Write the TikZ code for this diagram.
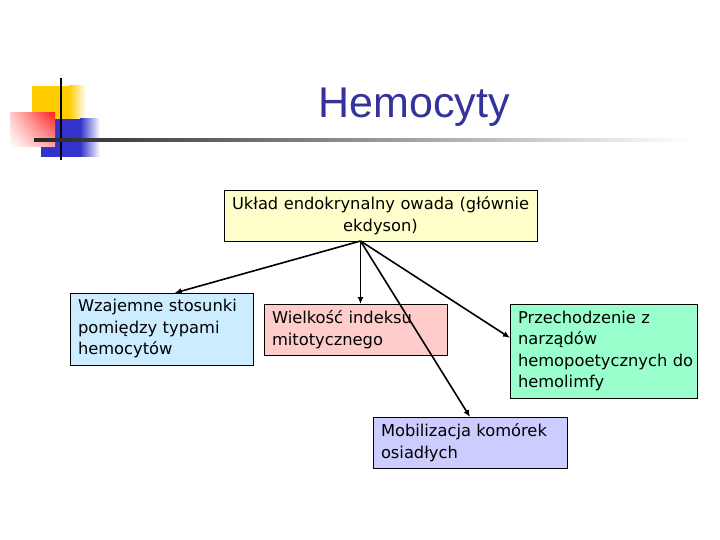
\documentclass[tikz,border=0pt]{standalone}
\usepackage{fontspec}
\setmainfont{DejaVu Sans}
\newfontfamily\titlefont{Liberation Sans}
\usepackage{tikz}
\usetikzlibrary{arrows.meta,shadings}

\definecolor{titleblue}{HTML}{333399}
\definecolor{logoyellow}{HTML}{FFCC00}
\definecolor{logored}{HTML}{FF2020}
\definecolor{logoblue}{HTML}{3333CC}
\definecolor{ukladfill}{HTML}{FFFFCC}
\definecolor{wzajfill}{HTML}{CCECFF}
\definecolor{wielfill}{HTML}{FFCCCC}
\definecolor{przefill}{HTML}{99FFCC}
\definecolor{mobifill}{HTML}{CCCCFF}

\tikzset{
  box/.style={draw=black,line width=0.8pt,anchor=north west,inner xsep=8pt,inner ysep=2pt,
              outer sep=0pt,align=left,font=\fontsize{16.3}{21.5}\selectfont},
  link/.style={line width=1.6pt,-{Latex[length=7pt,width=6pt]}}
}

\begin{document}
\begin{tikzpicture}[x=1pt,y=-1pt]
                              \useasboundingbox (0,0) rectangle (720,540);

                              % Logo
                              \fill[logoyellow] (32,86) rectangle (69,119);
                              \shade[left color=logoyellow,right color=white] (69,86) rectangle (86,119);
                              \fill[logoblue] (41,119) rectangle (80,157);
                              \shade[left color=logoblue,right color=white] (80,119) rectangle (100,157);
                              \shade[upper left=red!20,upper right=logored,lower left=white,lower right=red!35]
                                    (10,113) rectangle (55,147);
                              \fill[black] (60.3,78) rectangle (62.3,160);
                              \shade[left color=black!85,right color=white] (34,139) rectangle (690,142);

                              % Title
                              \node[anchor=base,text=titleblue,font=\titlefont\fontsize{43}{43}\selectfont]
                                    (title) at (414,118) {Hemocyty};

                              % Boxes
                              \node[box,fill=ukladfill,text width=297pt,minimum height=51pt,align=center]
                                    (uklad) at (224,190) {\mbox{Układ endokrynalny owada (głównie}\\ ekdyson)};
                              \node[box,fill=wzajfill,text width=167pt,minimum height=72pt]
                                    (wzajemne) at (70,293) {Wzajemne stosunki\\ pomiędzy typami\\ hemocytów};
                              \node[box,fill=wielfill,text width=167pt,minimum height=51pt]
                                    (wielkosc) at (264,304) {Wielkość indeksu\\ mitotycznego};
                              \node[box,fill=przefill,text width=171pt,minimum height=94pt]
                                    (przechodzenie) at (510,304) {Przechodzenie z\\ narządów\\ \mbox{hemopoetycznych do}\\ hemolimfy};
                              \node[box,fill=mobifill,text width=178pt,minimum height=51pt]
                                    (mobilizacja) at (373,417) {Mobilizacja komórek\\ osiadłych};

                              % Arrows
                              \coordinate (src) at ([xshift=-20pt]uklad.south);
                              \draw[link] (src) -- (wzajemne.70);
                              \draw[link] (src) -- (src |- wielkosc.north);
                              \draw[link] (src) -- (mobilizacja.north);
                              \draw[link] (src) -- (przechodzenie.172);
                        \end{tikzpicture}
\end{document}
